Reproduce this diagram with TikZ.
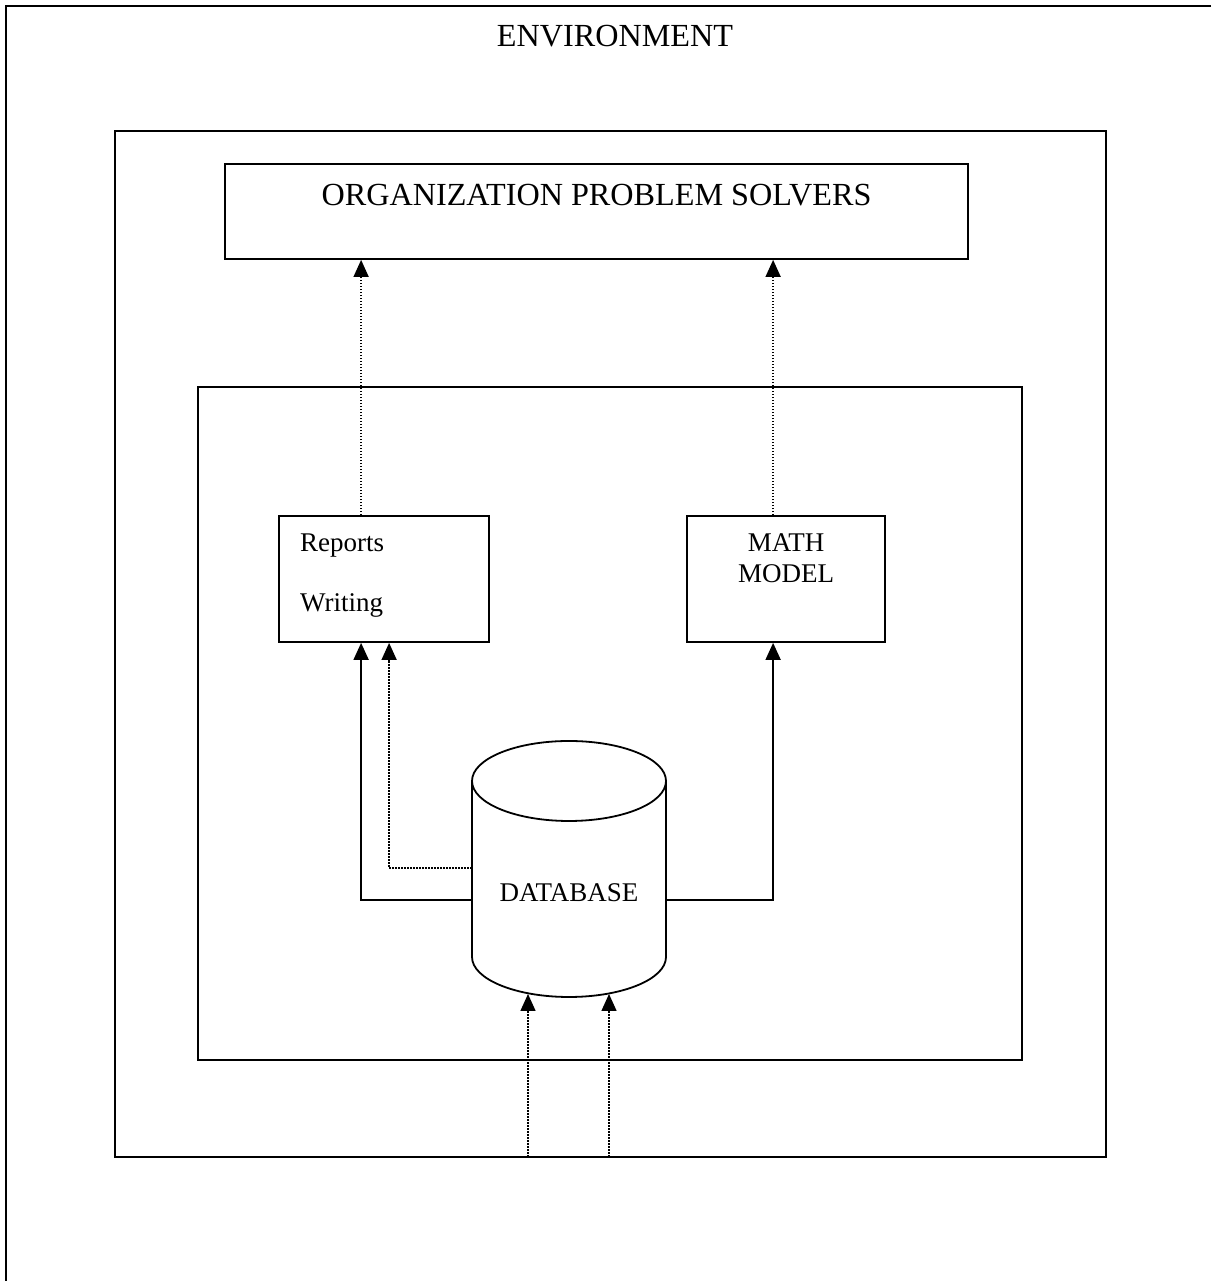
\documentclass[tikz,border=0pt]{standalone}
\usepackage{fontspec}
\setmainfont{Liberation Serif}
\usetikzlibrary{arrows.meta}
\begin{document}
\begin{tikzpicture}[x=1pt,y=1pt,
  boxline/.style={draw, line width=1.8pt, inner sep=0pt},
  framebox/.style={boxline, rectangle},
  big/.style={font=\fontsize{32.2}{38}\selectfont, inner sep=0pt},
  small/.style={font=\fontsize{27}{31}\selectfont, inner sep=0pt},
  tip/.style={-{Triangle[length=17pt,width=15pt]}},
  solidarrow/.style={tip, line width=1.8pt},
  dotarrow/.style={tip, line width=1.5pt, dash pattern=on 1.5pt off 1.5pt}
]
\useasboundingbox (0,0) rectangle (1211,1281);
\fill[white] (0,0) rectangle (1211,1281);
% outer environment frame (top and left edges visible)
\coordinate (envtl) at (6,1275);
\coordinate (envtr) at (1211,1275);
\coordinate (envbl) at (6,0);
\draw[line width=2.5pt] (envtr) -- (envtl) -- (envbl);
\node[big, anchor=base] (envlabel) at (615,1234) {ENVIRONMENT};

% boxes
\node[framebox, minimum width=991pt, minimum height=1026pt] (mid) at (610.5,637) {};
\node[framebox, minimum width=743pt, minimum height=95pt] (org) at (596.5,1069.5) {};
\node[big, anchor=base] (orglabel) at (596.5,1075) {ORGANIZATION PROBLEM SOLVERS};
\node[framebox, minimum width=824pt, minimum height=673pt] (inner) at (610,557.5) {};
\node[framebox, minimum width=210pt, minimum height=126pt] (rep) at (384,702) {};
\node[small, anchor=base west] (reptxt1) at (300,729) {Reports};
\node[small, anchor=base west] (reptxt2) at (300,669) {Writing};
\node[framebox, minimum width=198pt, minimum height=126pt] (math) at (786,702) {};
\node[small, anchor=base] (mathtxt1) at (786,729) {MATH};
\node[small, anchor=base] (mathtxt2) at (786,698) {MODEL};

% database cylinder
\node[rectangle, inner sep=0pt, minimum width=194pt, minimum height=256pt] (db) at (569,412) {};
\draw[line width=1.8pt] (472,500) -- (472,324)
  arc[start angle=180, end angle=360, x radius=97, y radius=40] -- (666,500);
\draw[line width=1.8pt] (569,500) ellipse [x radius=97, y radius=40];
\node[small, anchor=base] (dbtxt) at (569,379) {DATABASE};

% connectors database -> reports / math
\draw[solidarrow] ([yshift=-31pt]db.west) -| ([xshift=83pt]rep.south west);
\draw[dotarrow] ([yshift=1pt]db.west) -| ([xshift=111pt]rep.south west);
\draw[solidarrow] ([yshift=-31pt]db.east) -| ([xshift=87pt]math.south west);

% reports / math -> organization
\draw[dotarrow] ([xshift=83pt]rep.north west) -- ([xshift=83pt]rep.north west |- org.south);
\draw[dotarrow] ([xshift=87pt]math.north west) -- ([xshift=87pt]math.north west |- org.south);

% inputs from environment into database
\coordinate (in1) at (528,124);
\coordinate (in2) at (609,124);
\coordinate (db1) at (528,287);
\coordinate (db2) at (609,287);
\draw[dotarrow] (in1) -- (db1);
\draw[dotarrow] (in2) -- (db2);
\end{tikzpicture}
\end{document}
